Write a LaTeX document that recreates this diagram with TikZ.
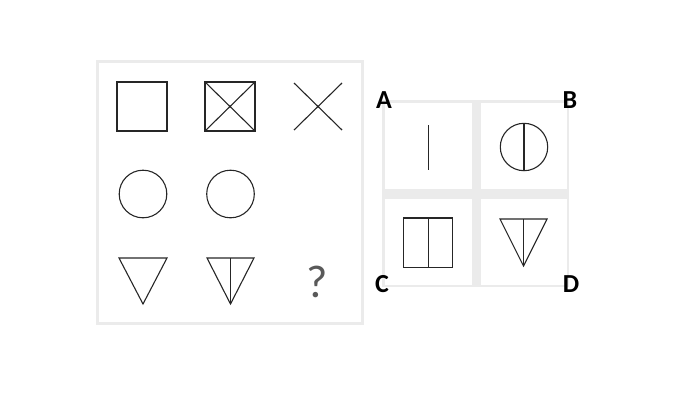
\documentclass[tikz,border=0pt]{standalone}
\usepackage{fontspec}
\setmainfont{Carlito}
\begin{document}
\begin{tikzpicture}[x=1pt,y=-1pt]
		\useasboundingbox (0,0) rectangle (676,410);
		\tikzset{fig/.style={draw=black!85, line width=1.1pt},
			frame/.style={draw=black!8, line width=3pt},
			letter/.style={font=\bfseries\fontsize{26}{26}\selectfont}}
		% left panel
		\draw[frame] (97.5,61.5) rectangle (362.5,323.5);
		% squares
		\draw[fig] (117,82) rectangle (167,131);
		\draw[fig] (205,82) rectangle (255,131);
		\draw[fig] (205,82) -- (255,131) (255,82) -- (205,131);
		\draw[fig] (294,83) -- (342,130) (342,83) -- (294,130);
		% circles
		\draw[fig] (143,194) circle [radius=23.8];
		\draw[fig] (230.5,194) circle [radius=23.8];
		% triangles
		\draw[fig] (119,258) -- (167,258) -- (143,304) -- cycle;
		\draw[fig] (207,258) -- (254,258) -- (230.5,304) -- cycle;
		\draw[fig] (230.5,258) -- (230.5,304);
		\node[text=black!65, font=\fontsize{46}{46}\selectfont] (q) at (317,282) {?};

		% right panel
		\fill[black!8] (382,100) rectangle (569,287);
		\fill[white] (385,103) rectangle (472,189);
		\fill[white] (481,103) rectangle (567,189);
		\fill[white] (385,199) rectangle (472,285);
		\fill[white] (481,199) rectangle (567,285);
		% options
		\draw[fig] (428.3,125) -- (428.3,169.5);
		\draw[fig] (524,147) circle [radius=23.7];
		\draw[fig] (524,123.3) -- (524,170.7);
		\draw[fig] (403.5,218) rectangle (452.5,267.5);
		\draw[fig] (428.3,218) -- (428.3,267.5);
		\draw[fig] (500,219) -- (547,219) -- (523.5,266) -- cycle;
		\draw[fig] (523.5,219) -- (523.5,266);

		\node[letter] (a) at (384,100) {A};
		\node[letter] (b) at (570,100) {B};
		\node[letter] (c) at (382,284) {C};
		\node[letter] (d) at (571,284) {D};
	\end{tikzpicture}
\end{document}
